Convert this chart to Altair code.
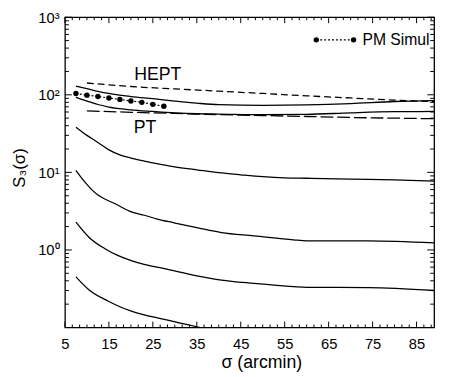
import altair as alt
import pandas as pd

# ---- data ----
a_sig = [7.5, 10, 12.5, 15, 20, 25, 30, 35, 40, 50, 60, 70, 80, 89]
a_val = [129, 120, 111, 104, 95, 89, 83, 78, 74.5, 73, 74, 77, 82, 84]

b_sig = [7.5, 10, 12.5, 15, 20, 25, 30, 35, 40, 50, 60, 70, 80, 89]
b_val = [93, 83, 75, 69.5, 64, 61, 58.5, 57, 56.5, 55.5, 56, 58.5, 60.5, 61]

c_sig = [7.5, 10, 12.5, 15, 17.5, 20, 25, 30, 35, 40, 45, 50, 55, 60, 70, 80, 89]
c_val = [38.2, 30, 24.3, 19.5, 16.8, 15.3, 13.3, 11.8, 10.8, 9.9, 9.3, 8.8, 8.5, 8.4, 8.2, 8.0, 7.7]

d_sig = [7.5, 9, 10, 11.2, 12.5, 14.2, 16.4, 20.1, 23.1, 26, 29.8, 35, 40.6, 48, 57, 60, 74, 89]
d_val = [10.6, 8.2, 7.0, 5.9, 5.1, 4.5, 3.94, 3.1, 2.8, 2.5, 2.24, 1.94, 1.67, 1.52, 1.35, 1.31, 1.31, 1.23]

e_sig = [7.5, 10.5, 14.2, 17, 20.1, 23, 27.6, 35, 40.6, 48, 57, 60, 74, 89]
e_val = [2.28, 1.45, 1.03, 0.85, 0.73, 0.65, 0.574, 0.464, 0.409, 0.371, 0.337, 0.33, 0.327, 0.30]

f_sig = [7.5, 10.5, 14.9, 17.5, 20.1, 27.6, 35.8]
f_val = [0.45, 0.305, 0.218, 0.185, 0.163, 0.127, 0.1]

hept_sig = [10, 20, 30, 40, 50, 60, 70, 80, 89]
hept_val = [142, 128, 119, 111.5, 104, 97, 91, 85.5, 81.5]

pt_sig = [10, 20, 30, 40, 50, 60, 70, 80, 89]
pt_val = [62, 59.5, 57.5, 55.5, 54, 52.5, 51, 50, 49.2]

pm_sig = [7.5, 10, 12.5, 15, 17.5, 20, 22.5, 25, 27.5]
pm_val = [104, 99, 95.2, 90.8, 87.3, 83.2, 80, 75.4, 71.1]

ann_text = ["HEPT", "PT"]
ann_sig = [26.1, 23.2]
ann_val = [182, 37.2]

x_tick_labels = [5, 15, 25, 35, 45, 55, 65, 75, 85]
y_tick_labels = [1, 10, 100, 1000]

# ---- tables ----
curves = []
for name, s, v in [("a", a_sig, a_val), ("b", b_sig, b_val), ("c", c_sig, c_val),
                   ("d", d_sig, d_val), ("e", e_sig, e_val), ("f", f_sig, f_val)]:
    for xi, yi in zip(s, v):
        curves.append({"curve": name, "x": xi, "y": yi})
df_solid = pd.DataFrame(curves)
df_hept = pd.DataFrame({"x": hept_sig, "y": hept_val})
df_pt = pd.DataFrame({"x": pt_sig, "y": pt_val})
df_pm = pd.DataFrame({"x": pm_sig, "y": pm_val})
df_ann = pd.DataFrame({"label": ann_text, "x": ann_sig, "y": ann_val})

x_minor = [5 + k * 10 / 6 for k in range(0, 51) if k % 6 != 0]
y_minor = [m * 10 ** e for e in range(-1, 3) for m in range(2, 10)]
df_xmaj = pd.DataFrame({"x": x_tick_labels})
df_xmin = pd.DataFrame({"x": x_minor})
df_ymaj = pd.DataFrame({"y": [0.1, 1, 10, 100, 1000]})
df_ymin = pd.DataFrame({"y": y_minor})

W, H = 376, 316
FONT = "Liberation Sans"

xs = alt.Scale(domain=[5, 89], nice=False, zero=False)
ys = alt.Scale(type="log", domain=[0.1, 1000], nice=False)

xaxis = alt.Axis(values=x_tick_labels, ticks=False, domain=False, grid=False,
                 labelFontSize=15, labelPadding=9, labelColor="black", labelFlush=False,
                 title="σ (arcmin)", titleFontSize=18, titleFontWeight="normal",
                 titleColor="black", titleX=200, titleY=41, titleBaseline="alphabetic",
                 titleAlign="center")
yaxis = alt.Axis(values=y_tick_labels, ticks=False, domain=False, grid=False,
                 labelFontSize=15, labelPadding=6, labelColor="black",
                 labelExpr="'10' + (datum.value >= 1000 ? '³' : datum.value >= 100 ? '²' : datum.value >= 10 ? '¹' : '⁰')",
                 title="S₃(σ)", titleFontSize=17, titleFontWeight="normal",
                 titleColor="black", titleAngle=270, titleX=-41, titleY=153,
                 titleBaseline="alphabetic", titleAlign="center")


def X(f="x"):
    return alt.X(f"{f}:Q", scale=xs, axis=xaxis)


def Y(f="y"):
    return alt.Y(f"{f}:Q", scale=ys, axis=yaxis)


solid = alt.Chart(df_solid).mark_line(color="black", strokeWidth=1.3, clip=True,
                                      interpolate="monotone").encode(
    x=X(), y=Y(), detail="curve:N")
hept = alt.Chart(df_hept).mark_line(color="black", strokeWidth=1.3, strokeDash=[7, 4],
                                    interpolate="monotone").encode(x=X(), y=Y())
pt = alt.Chart(df_pt).mark_line(color="black", strokeWidth=1.3, strokeDash=[13, 4],
                                interpolate="monotone").encode(x=X(), y=Y())
pm_line = alt.Chart(df_pm).mark_line(color="black", strokeWidth=1.2,
                                     strokeDash=[2, 2]).encode(x=X(), y=Y())
pm_pts = alt.Chart(df_pm).mark_circle(color="black", size=30, opacity=1).encode(x=X(), y=Y())
ann = alt.Chart(df_ann).mark_text(font=FONT, fontSize=18, color="black", align="center",
                                  baseline="middle").encode(x=X(), y=Y(), text="label:N")

one = pd.DataFrame({"k": [0]})
leg_line = alt.Chart(one).mark_rule(color="black", strokeWidth=1.2, strokeDash=[2, 2]).encode(
    x=alt.value(256), x2=alt.value(294), y=alt.value(23))
leg_p1 = alt.Chart(one).mark_circle(color="black", size=30, opacity=1).encode(
    x=alt.value(256), y=alt.value(23))
leg_p2 = alt.Chart(one).mark_circle(color="black", size=30, opacity=1).encode(
    x=alt.value(294), y=alt.value(23))
leg_txt = alt.Chart(one).mark_text(text="PM Simul", font=FONT, fontSize=16, color="black",
                                   align="left", baseline="middle").encode(
    x=alt.value(303), y=alt.value(23))

tick_layers = []
for df, ln in [(df_xmaj, 6), (df_xmin, 3)]:
    tick_layers.append(alt.Chart(df).mark_rule(color="black", strokeWidth=1).encode(
        x=X(), y=alt.value(H), y2=alt.value(H - ln)))
    tick_layers.append(alt.Chart(df).mark_rule(color="black", strokeWidth=1).encode(
        x=X(), y=alt.value(0), y2=alt.value(ln)))
for df, ln in [(df_ymaj, 7), (df_ymin, 4)]:
    tick_layers.append(alt.Chart(df).mark_rule(color="black", strokeWidth=1).encode(
        y=Y(), x=alt.value(0), x2=alt.value(ln)))
    tick_layers.append(alt.Chart(df).mark_rule(color="black", strokeWidth=1).encode(
        y=Y(), x=alt.value(W), x2=alt.value(W - ln)))

chart = alt.layer(solid, hept, pt, pm_line, pm_pts, ann, leg_line, leg_p1, leg_p2, leg_txt,
                  *tick_layers).properties(
    width=W, height=H,
    padding={"left": 58, "top": 6, "right": 7, "bottom": 47},
    autosize=alt.AutoSizeParams(type="none"),
    background="white",
).configure(font=FONT).configure_view(stroke="black", strokeWidth=1.3)

chart.save("out.html", embed_options={"renderer": "svg", "actions": False})
